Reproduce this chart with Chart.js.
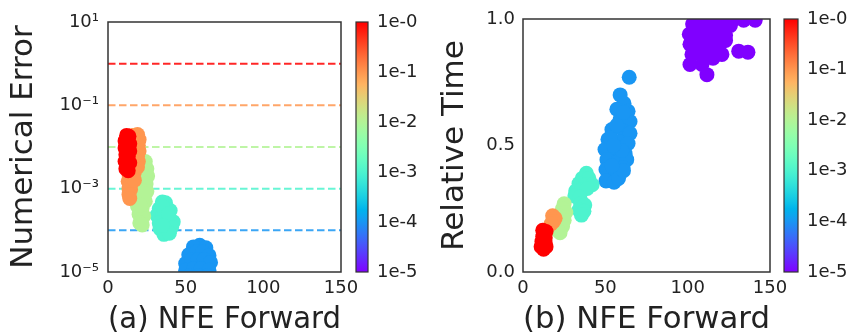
<!DOCTYPE html>
<html>
<head>
<meta charset="utf-8">
<script src="https://cdn.jsdelivr.net/npm/chart.js@4.4.0/dist/chart.umd.min.js"></script>
<style>
  body { margin: 0; background: #fff; }
  canvas { position: absolute; top: 0; }
  #chartA { left: 0; }
  #chartB { left: 430px; }
</style>
</head>
<body>
<canvas id="chartA" width="430" height="335"></canvas>
<canvas id="chartB" width="422" height="335"></canvas>
<script>
// tolerance levels (colour bar), top to bottom
var tolLevels = [0, -1, -2, -3, -4, -5];
var tolLabels = ['1e-0', '1e-1', '1e-2', '1e-3', '1e-4', '1e-5'];
var tolLines = [1, 0.1, 0.01, 0.001, 0.0001];

var nfeTicks = [0, 50, 100, 150];
var errTicks = [1e-5, 1e-3, 1e-1, 10];
var errTickLabels = ['10⁻⁵', '10⁻³', '10⁻¹', '10¹'];
var timeTicks = [0, 0.5, 1];

// (a) NFE vs numerical error, one pair of arrays per tolerance
var nfeA0 = [12, 13.5, 11, 12.5, 14, 11, 13, 14, 11.5, 13, 11, 12.5, 14, 11.5, 13];
var errA0 = [0.019, 0.018, 0.014, 0.013, 0.012, 0.0095, 0.009, 0.008, 0.0065, 0.006, 0.0045, 0.004, 0.0042, 0.003, 0.0027];
var nfeA1 = [19, 20, 19.5, 20, 19, 19.5, 19, 15.5, 16, 16, 17, 13.5, 15, 13, 14.5, 13.5, 14.5, 13.5, 14, 17];
var errA1 = [0.02, 0.015, 0.011, 0.008, 0.006, 0.0045, 0.0033, 0.019, 0.01, 0.005, 0.0025, 0.0022, 0.002, 0.0015, 0.0014, 0.001, 0.00095, 0.00072, 0.00058, 0.0016];
var nfeA2 = [24, 25, 23, 25.5, 22, 24.5, 20, 22.5, 25, 19, 21.5, 24, 19, 22, 20, 23, 20.5, 22, 21, 23.5, 21];
var errA2 = [0.0045, 0.003, 0.0022, 0.002, 0.0015, 0.0013, 0.001, 0.0009, 0.00085, 0.0006, 0.00055, 0.0005, 0.00038, 0.00035, 0.00024, 0.00022, 0.00015, 0.000135, 0.0028, 0.00075, 0.0004];
var nfeA3 = [35, 37, 33, 37, 40, 31.5, 35, 39, 42, 33, 37, 41, 33.5, 37.5, 36, 39.5, 35, 39, 35];
var errA3 = [0.00048, 0.00046, 0.00033, 0.00032, 0.0003, 0.00023, 0.00022, 0.00021, 0.00016, 0.00015, 0.00014, 0.00012, 0.00011, 0.0001, 0.00008, 0.000085, 0.00038, 0.00025, 0.00013];
var nfeA4 = [59, 55, 63, 52, 57, 61, 65, 50, 54, 58, 62, 66, 50, 55, 60, 65, 52, 58, 64];
var errA4 = [4.4e-5, 4e-5, 3.8e-5, 2.6e-5, 3e-5, 3e-5, 2.5e-5, 1.6e-5, 2e-5, 2e-5, 2e-5, 1.7e-5, 1.1e-5, 1.2e-5, 1.2e-5, 1.1e-5, 8e-6, 8e-6, 8e-6];

// (b) NFE vs relative time
var nfeB0 = [12, 14, 12, 13.5, 11.5, 13.5, 11, 12.5, 14, 12.5];
var timeB0 = [0.165, 0.16, 0.14, 0.135, 0.12, 0.115, 0.1, 0.09, 0.1, 0.11];
var nfeB1 = [18, 19.5, 18.5, 17];
var timeB1 = [0.222, 0.212, 0.2, 0.19];
var nfeB2 = [25, 24, 26, 23, 25, 22, 24, 21, 22.5];
var timeB2 = [0.27, 0.25, 0.235, 0.22, 0.205, 0.19, 0.18, 0.165, 0.155];
var nfeB3 = [38.5, 36, 40, 34, 38, 42, 32, 35.5, 39, 31.5, 34.5, 35, 37.5, 34, 37, 35.5];
var timeB3 = [0.39, 0.37, 0.37, 0.35, 0.345, 0.345, 0.32, 0.325, 0.33, 0.3, 0.295, 0.27, 0.265, 0.245, 0.24, 0.225];
var nfeB4 = [64.5, 59, 61.3, 57, 63.8, 59, 65, 54, 61.3, 65, 51.6, 58.3, 63.8, 49.8, 55.9, 62, 51, 57.7, 63, 50.4, 56.5, 60.7, 50.4, 55.3, 58, 61, 53, 57, 60, 54, 61, 55];
var timeB4 = [0.77, 0.70, 0.667, 0.643, 0.635, 0.603, 0.595, 0.563, 0.556, 0.548, 0.524, 0.516, 0.508, 0.484, 0.476, 0.468, 0.444, 0.437, 0.444, 0.405, 0.397, 0.413, 0.36, 0.355, 0.37, 0.4, 0.53, 0.58, 0.48, 0.42, 0.63, 0.5];
var nfeB5 = [103, 109, 115, 121, 126, 101, 106, 112, 118, 123, 101.4, 107.5, 113.6, 119.6, 123, 102.6, 108.7, 114.8, 120.8, 101.4, 108.7, 115.4, 111.7, 131, 136.6, 134, 141, 128, 104, 110, 116, 122, 112, 118, 106];
var timeB5 = [0.98, 0.985, 0.99, 0.985, 0.975, 0.94, 0.945, 0.94, 0.94, 0.935, 0.9, 0.9, 0.9, 0.9, 0.915, 0.86, 0.86, 0.86, 0.86, 0.82, 0.82, 0.845, 0.78, 0.873, 0.869, 0.995, 0.995, 1.0, 1.02, 1.02, 1.02, 1.02, 0.96, 0.92, 0.88];

var FONT = 'DejaVu Sans';
var INK = '#222';

// matplotlib "rainbow" colormap
function rainbow(v, a) {
  var r = Math.min(1, Math.abs(2 * v - 0.5));
  var g = Math.sin(Math.PI * v);
  var b = Math.cos(Math.PI * v / 2);
  return 'rgba(' + Math.round(r * 255) + ',' + Math.round(g * 255) + ',' + Math.round(b * 255) + ',' + (a == null ? 1 : a) + ')';
}
function levelColor(level, a) { return rainbow((5 + level) / 5, a); }

function pts(xs, ys) {
  return xs.map(function(x, i) { return {x: x, y: ys[i]}; });
}

function cloud(xs, ys, level) {
  return {
    data: pts(xs, ys),
    backgroundColor: levelColor(level),
    borderWidth: 0,
    pointRadius: 7.5,
    pointHoverRadius: 7.5,
    clip: 0
  };
}

// pin an axis box to a fixed size and drop the extra padding chart.js asks for
function pin(w, h) {
  return function(s) {
    if (w != null) s.width = w;
    if (h != null) s.height = h;
    s.paddingTop = 0; s.paddingBottom = 0; s.paddingLeft = 0; s.paddingRight = 0;
  };
}

// frame round the plot and the colour bar next to it
var frameAndBar = {
  id: 'frameAndBar',
  afterDraw: function(chart, args, opts) {
    var ctx = chart.ctx, a = chart.chartArea;
    var x = a.right + opts.gap;
    var g = ctx.createLinearGradient(0, a.bottom, 0, a.top);
    for (var i = 0; i <= 40; i++) g.addColorStop(i / 40, rainbow(i / 40));
    ctx.save();
    ctx.fillStyle = g;
    ctx.fillRect(x, a.top, opts.width, a.bottom - a.top);
    ctx.strokeStyle = '#333';
    ctx.lineWidth = 1.2;
    ctx.strokeRect(x, a.top, opts.width, a.bottom - a.top);
    ctx.lineWidth = 1.5;
    ctx.strokeRect(a.left, a.top, a.right - a.left, a.bottom - a.top);
    ctx.restore();
  }
};

function xAxis(title) {
  return {
    type: 'linear', min: 0, max: 150,
    grid: {display: false, drawTicks: false},
    border: {display: false},
    afterBuildTicks: function(s) { s.ticks = nfeTicks.map(function(v) { return {value: v}; }); },
    afterFit: pin(null, 63),
    ticks: {color: INK, font: {family: FONT, size: 18}, padding: 6, maxRotation: 0},
    title: {display: true, text: title, color: INK, font: {family: FONT, size: 31, lineHeight: 1}, padding: 0}
  };
}

function cbAxis(width, pad) {
  return {
    type: 'linear', position: 'right', min: -5, max: 0,
    grid: {display: false, drawTicks: false},
    border: {display: false},
    afterBuildTicks: function(s) { s.ticks = tolLevels.map(function(v) { return {value: v}; }); },
    afterFit: pin(width, null),
    ticks: {
      color: INK, font: {family: FONT, size: 18}, padding: pad,
      callback: function(v) { return tolLabels[tolLevels.indexOf(v)]; }
    }
  };
}

// (a)
var setsA = [
  cloud(nfeA0, errA0, 0),
  cloud(nfeA1, errA1, -1),
  cloud(nfeA2, errA2, -2),
  cloud(nfeA3, errA3, -3),
  cloud(nfeA4, errA4, -4)
];
tolLines.forEach(function(t, i) {
  setsA.push({
    data: [{x: 0, y: t}, {x: 150, y: t}],
    showLine: true,
    borderColor: levelColor(-i, 0.85),
    borderWidth: 2,
    borderDash: [7.5, 3.5],
    pointRadius: 0,
    clip: 0
  });
});

new Chart(document.getElementById('chartA').getContext('2d'), {
  type: 'scatter',
  data: {datasets: setsA},
  options: {
    responsive: false,
    animation: false,
    layout: {padding: {top: 22, left: 0, right: 0, bottom: 0}},
    plugins: {legend: {display: false}, tooltip: {enabled: false}, frameAndBar: {gap: 15, width: 12}},
    scales: {
      x: xAxis('(a) NFE Forward'),
      y: {
        type: 'logarithmic', min: 1e-5, max: 10,
        grid: {display: false, drawTicks: false},
        border: {display: false},
        afterBuildTicks: function(s) { s.ticks = errTicks.map(function(v) { return {value: v}; }); },
        afterFit: pin(108, null),
        ticks: {
          color: INK, font: {family: FONT, size: 18}, padding: 9,
          callback: function(v) { return errTickLabels[errTicks.indexOf(v)]; }
        },
        title: {display: true, text: 'Numerical Error', color: INK, font: {family: FONT, size: 31, lineHeight: 1}, padding: {top: 8, bottom: 0}}
      },
      cb: cbAxis(89, 36)
    }
  },
  plugins: [frameAndBar]
});

// (b)
new Chart(document.getElementById('chartB').getContext('2d'), {
  type: 'scatter',
  data: {
    datasets: [
      cloud(nfeB0, timeB0, 0),
      cloud(nfeB1, timeB1, -1),
      cloud(nfeB2, timeB2, -2),
      cloud(nfeB3, timeB3, -3),
      cloud(nfeB4, timeB4, -4),
      cloud(nfeB5, timeB5, -5)
    ]
  },
  options: {
    responsive: false,
    animation: false,
    layout: {padding: {top: 19, left: 0, right: 0, bottom: 0}},
    plugins: {legend: {display: false}, tooltip: {enabled: false}, frameAndBar: {gap: 14, width: 14}},
    scales: {
      x: xAxis('(b) NFE Forward'),
      y: {
        type: 'linear', min: 0, max: 1,
        grid: {display: false, drawTicks: false},
        border: {display: false},
        afterBuildTicks: function(s) { s.ticks = timeTicks.map(function(v) { return {value: v}; }); },
        afterFit: pin(93, null),
        ticks: {
          color: INK, font: {family: FONT, size: 18}, padding: 8,
          callback: function(v) { return v.toFixed(1); }
        },
        title: {display: true, text: 'Relative Time', color: INK, font: {family: FONT, size: 31, lineHeight: 1}, padding: {top: 9, bottom: 0}}
      },
      cb: cbAxis(82, 37)
    }
  },
  plugins: [frameAndBar]
});
</script>
</body>
</html>
